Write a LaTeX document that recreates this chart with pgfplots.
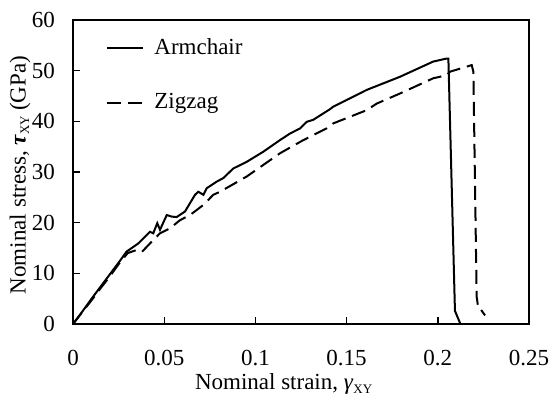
\documentclass[border=0pt]{standalone}
\usepackage{fontspec}
\setmainfont{Liberation Serif}
\usepackage{pgfplots}
\pgfplotsset{compat=1.18}
\begin{document}
\begin{tikzpicture}[font=\fontsize{11.5}{13.5}\selectfont]
\useasboundingbox (-36.5pt,-38.5pt) rectangle (239pt,162pt);
\begin{axis}[
  at={(0,0)}, anchor=south west,
  scale only axis, width=228pt, height=152pt,
  xmin=0, xmax=0.25, ymin=0, ymax=60,
  xtick={0,0.05,0.1,0.15,0.2,0.25},
  ytick={0,10,20,30,40,50,60},
  tick align=inside, xtick pos=bottom, ytick pos=left,
  major tick length=3.5pt,
  axis line style={line width=1.4pt},
  tick style={line width=0.7pt, black},
  /pgf/number format/assume math mode=true,
  xticklabel style={/pgf/number format/fixed, /pgf/number format/precision=2, inner sep=1pt},
  xticklabel shift=12pt,
  yticklabel shift=5.5pt,
  xlabel={Nominal strain, \textit{γ}\textsubscript{\fontsize{6.5}{6.5}\selectfont XY}},
  ylabel={Nominal stress, \textbf{\textit{τ}}\textsubscript{\fontsize{6.5}{6.5}\selectfont XY}\,(GPa)},
  xlabel style={at={(axis description cs:0.463,-0.16)}, anchor=north, inner sep=0.5pt},
  ylabel style={at={(axis description cs:-0.116,0.49)}, anchor=center},
  legend cell align=left,
  legend image code/.code={\draw[#1] (0pt,0pt) -- (18pt,0pt);},
  legend style={draw=none, fill=none, at={(axis cs:0.0181,57.2)}, anchor=north west,
    row sep=14pt, inner sep=0pt, nodes={inner sep=2pt},
    /tikz/every odd column/.append style={column sep=3pt}},
]
\addplot[black, line width=1pt] coordinates {
(0,0) (0.005,2.4) (0.01,4.9) (0.015,7.3) (0.02,9.7) (0.025,12.1) (0.0294,14.3)
(0.0358,15.9) (0.0422,18.2) (0.044,17.9) (0.0462,19.9) (0.0477,18.6) (0.0514,21.5)
(0.0541,21.2) (0.0568,21.1) (0.0614,22.2) (0.0669,25.5) (0.0687,26.1) (0.0715,25.5)
(0.0733,26.8) (0.0788,28.1) (0.0824,28.8) (0.0879,30.7) (0.0952,32.0) (0.1043,34.0)
(0.1135,36.3) (0.119,37.6) (0.1245,38.6) (0.1281,39.9) (0.1317,40.3) (0.1409,42.4)
(0.1427,42.9) (0.161,46.2) (0.1793,48.8) (0.1975,51.8) (0.2049,52.4) (0.2058,52.4)
(0.2094,2.6) (0.2124,0)
};
\addlegendentry{Armchair}
\addplot[black, line width=1pt, dash pattern=on 7pt off 3.5pt] coordinates {
(0,0) (0.005,2.3) (0.01,4.6) (0.015,7.0) (0.02,9.3) (0.025,11.8) (0.03,14.0)
(0.0349,14.6) (0.0377,14.2) (0.0422,15.9) (0.0477,17.9) (0.0532,18.9) (0.0587,20.5)
(0.0641,21.5) (0.0715,23.5) (0.0769,25.5) (0.0806,26.1) (0.0952,29.1) (0.1135,33.7)
(0.1263,36.3) (0.139,38.6) (0.1427,39.6) (0.161,42.2) (0.1665,43.5) (0.1793,45.5)
(0.1975,48.5) (0.2049,49.1) (0.2067,49.8) (0.2186,51.1) (0.2195,49.8) (0.2213,5.4)
(0.2222,3.1) (0.2235,2.9) (0.2259,1.7)
};
\addlegendentry{Zigzag}
\end{axis}
\end{tikzpicture}
\end{document}
